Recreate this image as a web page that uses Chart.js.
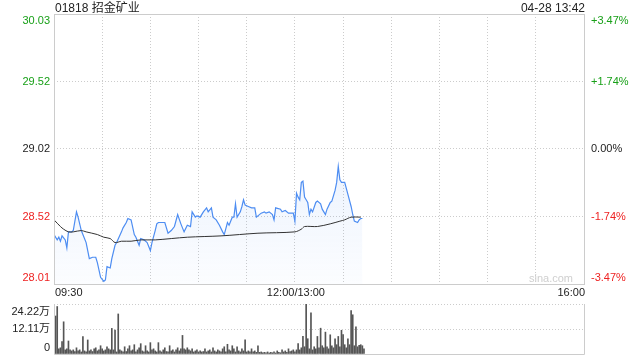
<!DOCTYPE html>
<html>
<head>
<meta charset="utf-8">
<script src="https://cdn.jsdelivr.net/npm/chart.js@4.4.1/dist/chart.umd.min.js"></script>
<style>
  body { margin: 0; background: #fff; }
  #wrap { position: relative; width: 640px; height: 360px; }
  canvas { position: absolute; left: 0; }
</style>
</head>
<body>
<div id="wrap">
  <canvas id="price" width="640" height="300" style="top:0"></canvas>
  <canvas id="volume" width="640" height="60" style="top:300px"></canvas>
</div>
<script>
const title = "01818 招金矿业";
const stamp = "04-28 13:42";
const prevClose = 29.02;
const yMin = 28.01;
const yMax = 30.03;
const priceTickLabels = ["28.01", "28.52", "29.02", "29.52", "30.03"];
const pctTickLabels = ["-3.47%", "-1.74%", "0.00%", "+1.74%", "+3.47%"];
const timeLabels = ["09:30", "12:00/13:00", "16:00"];
const timeLabelMinutes = [0, 150, 330];
const totalMinutes = 330;

// minutes since 09:30 (lunch break removed) and price
const priceMin = [0,2,3,4,5,7,8,9,11,12,14,15,17,20,22,24,26,27,29,31,32,33,35,36,38,39,42,43,45,46,48,50,51,53,54,56,58,60,61,63,64,65,67,69,71,73,75,77,79,81,83,85,86,88,89,91,93,95,96,98,99,101,103,105,106,108,109,111,112,113,114,116,117,118,119,121,123,125,126,129,131,132,134,136,137,138,141,142,144,146,147,149,150,151,152,153,154,155,156,157,158,159,160,161,163,164,166,167,168,169,170,172,173,175,176,177,178,179,180,181,183,185,186,187,189,190,191,192];
const priceVal = [28.38,28.34,28.36,28.33,28.37,28.34,28.28,28.40,28.40,28.41,28.55,28.51,28.41,28.32,28.20,28.21,28.21,28.17,28.06,28.03,28.04,28.14,28.13,28.20,28.30,28.32,28.40,28.43,28.47,28.50,28.49,28.38,28.36,28.30,28.35,28.34,28.32,28.26,28.32,28.41,28.46,28.47,28.47,28.47,28.39,28.41,28.44,28.53,28.46,28.40,28.45,28.44,28.55,28.51,28.52,28.51,28.55,28.58,28.55,28.58,28.51,28.49,28.45,28.40,28.38,28.47,28.45,28.51,28.51,28.61,28.51,28.55,28.59,28.64,28.60,28.59,28.58,28.58,28.51,28.54,28.55,28.54,28.55,28.53,28.49,28.58,28.57,28.55,28.56,28.54,28.54,28.54,28.48,28.69,28.66,28.64,28.77,28.78,28.66,28.64,28.62,28.53,28.57,28.55,28.62,28.63,28.61,28.57,28.55,28.53,28.57,28.62,28.63,28.71,28.77,28.89,28.79,28.77,28.77,28.77,28.68,28.59,28.53,28.48,28.47,28.49,28.50,28.50];

// average price line
const avgMin = [0,4,6,9,12,17,20,27,31,35,38,42,48,54,63,83,104,127,150,154,156,164,172,178,181,185,191];
const avgVal = [28.49,28.44,28.42,28.40,28.40,28.41,28.40,28.38,28.36,28.35,28.32,28.33,28.33,28.34,28.34,28.36,28.37,28.39,28.40,28.42,28.44,28.44,28.46,28.48,28.49,28.51,28.51];

// volume per minute, in 万
const volume = [
  18.4, 23.0, 2.5, 3.0, 6.0, 15.6, 2.0, 2.5, 6.3, 2.0,
  1.5, 2.0, 1.2, 3.0, 1.5, 2.0, 1.0, 8.4, 1.5, 1.0,
  6.8, 1.5, 2.0, 1.2, 2.5, 3.0, 1.5, 2.0, 4.0, 2.5,
  1.5, 2.0, 3.5, 2.5, 2.0, 12.4, 2.0, 11.6, 1.0, 19.4,
  2.0, 1.5, 1.0, 3.5, 1.2, 2.5, 4.0, 1.5, 2.0, 4.5,
  1.0, 2.0, 3.0, 5.0, 1.5, 1.0, 4.0, 1.5, 1.0, 5.5,
  2.0, 2.5, 1.5, 1.0, 5.5, 1.5, 1.0, 2.0, 3.0, 1.2,
  1.0, 4.0, 1.5, 2.0, 1.0, 2.0, 3.0, 1.5, 2.5, 9.0,
  2.5, 2.0, 3.0, 2.0, 1.5, 2.5, 1.0, 1.5, 2.0, 1.0,
  1.5, 1.0, 1.2, 2.5, 1.0, 1.5, 2.0, 1.0, 3.0, 1.5,
  1.0, 2.0, 1.5, 1.0, 2.5, 3.5, 1.0, 4.7, 2.0, 1.5,
  4.0, 2.5, 1.0, 3.5, 1.5, 1.0, 2.5, 1.5, 6.9, 1.0,
  1.5, 1.0, 2.5, 1.0, 1.5, 0.8, 3.9, 0.8, 1.0, 0.6,
  0.8, 0.6, 1.0, 0.5, 0.8, 0.6, 1.0, 0.5, 1.5, 0.8,
  0.6, 2.0, 1.0, 1.5, 0.8, 2.5, 1.2, 1.5, 2.0, 1.0,
  2.0, 5.0, 2.0, 3.0, 8.6, 3.5, 24.2, 7.4, 2.5, 20.0,
  2.0, 3.5, 2.5, 8.5, 3.0, 12.5, 4.0, 3.0, 10.6, 3.5,
  2.5, 9.3, 4.0, 3.0, 7.4, 4.5, 8.5, 3.5, 11.5, 9.4,
  4.5, 3.0, 7.4, 4.5, 21.0, 19.0, 4.0, 13.2, 3.5, 4.2,
  4.5, 4.0, 2.5
];
const volMax = 24.22;
const volTicks = [0, 12.11, 24.22];
const volTickLabels = ["0", "12.11万", "24.22万"];

const FONT = '"Liberation Sans", Arial, "Noto Sans CJK SC", sans-serif';
const GRID = "#cccccc";
const GREEN = "#18a018";
const RED = "#ee2222";

// evenly spaced price grid (quarters of the range)
const priceTicks = priceTickLabels.map((t, k) => yMin + k * (yMax - yMin) / (priceTickLabels.length - 1));
const gridMinutes = [];
for (let m = 0; m <= totalMinutes; m += 30) gridMinutes.push(m);

const edgeColor = (last) => (c) => (c.index === 0 || c.index === last) ? "transparent" : GRID;

const priceText = {
  id: "priceText",
  beforeDatasetsDraw(chart) {
    const { ctx, chartArea: a } = chart;
    ctx.save();
    ctx.font = "11px " + FONT;
    ctx.fillStyle = "#cfcfcf";
    ctx.textAlign = "right";
    ctx.textBaseline = "middle";
    ctx.fillText("sina.com", a.right - 11, a.bottom - 5);
    ctx.restore();
  },
  afterDraw(chart) {
    const { ctx, chartArea: a, scales } = chart;
    ctx.save();
    ctx.strokeStyle = GRID;
    ctx.lineWidth = 1;
    ctx.strokeRect(a.left + 0.5, a.top + 0.5, a.right - a.left, a.bottom - a.top);

    ctx.font = "12px " + FONT;
    ctx.fillStyle = "#222";
    ctx.textBaseline = "alphabetic";
    ctx.textAlign = "left";
    ctx.fillText(title, a.left + 1, 12);
    ctx.textAlign = "right";
    ctx.fillText(stamp, a.right + 1, 12);

    ctx.font = "11px " + FONT;
    ctx.textBaseline = "middle";
    const last = priceTicks.length - 1;
    priceTicks.forEach((v, k) => {
      let y = scales.y.getPixelForValue(v);
      if (k === 0) y -= 6.5;
      if (k === last) y += 7;
      const p = parseFloat(priceTickLabels[k]);
      ctx.fillStyle = p > prevClose ? GREEN : (p < prevClose ? RED : "#222");
      ctx.textAlign = "right";
      ctx.fillText(priceTickLabels[k], a.left - 4, y);
      ctx.textAlign = "left";
      ctx.fillText(pctTickLabels[k], a.right + 7, y);
    });

    ctx.fillStyle = "#222";
    timeLabels.forEach((t, i) => {
      const x = scales.x.getPixelForValue(timeLabelMinutes[i]);
      ctx.textAlign = i === 0 ? "left" : (i === timeLabels.length - 1 ? "right" : "center");
      ctx.fillText(t, x + 1, a.bottom + 9);
    });
    ctx.restore();
  }
};

new Chart(document.getElementById("price"), {
  type: "line",
  data: {
    datasets: [
      {
        label: "价格",
        data: priceMin.map((m, i) => ({ x: m, y: priceVal[i] })),
        borderColor: "#4d8df2",
        borderWidth: 1.2,
        pointRadius: 0,
        tension: 0,
        fill: "start",
        backgroundColor: (c) => {
          const { ctx, chartArea } = c.chart;
          if (!chartArea) return "rgba(77,141,242,0.08)";
          const g = ctx.createLinearGradient(0, chartArea.top + 140, 0, chartArea.bottom);
          g.addColorStop(0, "rgba(77,141,242,0.11)");
          g.addColorStop(1, "rgba(77,141,242,0.02)");
          return g;
        },
        order: 2
      },
      {
        label: "均价",
        data: avgMin.map((m, i) => ({ x: m, y: avgVal[i] })),
        borderColor: "#333",
        borderWidth: 1,
        pointRadius: 0,
        tension: 0.3,
        fill: false,
        order: 1
      }
    ]
  },
  options: {
    responsive: false,
    animation: false,
    events: [],
    layout: { padding: { top: 14, left: 0, right: 0, bottom: 0 } },
    plugins: { legend: { display: false }, tooltip: { enabled: false } },
    scales: {
      x: {
        type: "linear", min: 0, max: totalMinutes, offset: false,
        afterBuildTicks: (s) => { s.ticks = gridMinutes.map((v) => ({ value: v })); },
        ticks: { display: false },
        grid: { color: edgeColor(gridMinutes.length - 1), drawTicks: false, lineWidth: 1 },
        border: { display: false, dash: [1, 2] },
        afterFit: (s) => { s.height = 16; }
      },
      y: {
        position: "left", min: yMin, max: yMax,
        afterBuildTicks: (s) => { s.ticks = priceTicks.map((v) => ({ value: v })); },
        ticks: { display: false },
        grid: { color: edgeColor(priceTicks.length - 1), drawTicks: false, lineWidth: 1 },
        border: { display: false, dash: [1, 2] },
        afterFit: (s) => { s.width = 54; }
      },
      y2: {
        position: "right", min: yMin, max: yMax,
        ticks: { display: false },
        grid: { display: false },
        border: { display: false },
        afterFit: (s) => { s.width = 56; }
      }
    }
  },
  plugins: [priceText]
});

const volText = {
  id: "volText",
  afterDraw(chart) {
    const { ctx, chartArea: a, scales } = chart;
    ctx.save();
    ctx.strokeStyle = GRID;
    ctx.lineWidth = 1;
    ctx.beginPath();
    ctx.moveTo(a.left + 0.5, a.top);
    ctx.lineTo(a.left + 0.5, a.bottom + 0.5);
    ctx.lineTo(a.right + 0.5, a.bottom + 0.5);
    ctx.lineTo(a.right + 0.5, a.top);
    ctx.stroke();

    ctx.font = "11px " + FONT;
    ctx.fillStyle = "#222";
    ctx.textAlign = "right";
    ctx.textBaseline = "middle";
    const last = volTicks.length - 1;
    volTicks.forEach((v, k) => {
      let y = scales.y.getPixelForValue(v);
      if (k === 0) y -= 6;
      if (k === last) y += 7.5;
      ctx.fillText(volTickLabels[k], a.left - 4, y);
    });
    ctx.restore();
  }
};

new Chart(document.getElementById("volume"), {
  type: "bar",
  data: {
    datasets: [{
      label: "成交量",
      data: volume.map((v, i) => ({ x: i + 1, y: v })),
      backgroundColor: "#555",
      borderWidth: 0,
      barThickness: 1
    }]
  },
  options: {
    responsive: false,
    animation: false,
    events: [],
    layout: { padding: { top: 4, left: 0, right: 0, bottom: 0 } },
    plugins: { legend: { display: false }, tooltip: { enabled: false } },
    scales: {
      x: {
        type: "linear", min: 0, max: totalMinutes, offset: false,
        ticks: { display: false },
        grid: { display: false },
        border: { display: false },
        afterFit: (s) => { s.height = 6; }
      },
      y: {
        position: "left", min: 0, max: volMax,
        afterBuildTicks: (s) => { s.ticks = volTicks.map((v) => ({ value: v })); },
        ticks: { display: false },
        grid: { color: (c) => c.index === 0 ? "transparent" : GRID, drawTicks: false, lineWidth: 1 },
        border: { display: false, dash: [1, 2] },
        afterFit: (s) => { s.width = 54; }
      },
      y2: {
        position: "right", min: 0, max: volMax,
        ticks: { display: false },
        grid: { display: false },
        border: { display: false },
        afterFit: (s) => { s.width = 56; }
      }
    }
  },
  plugins: [volText]
});
</script>
</body>
</html>
